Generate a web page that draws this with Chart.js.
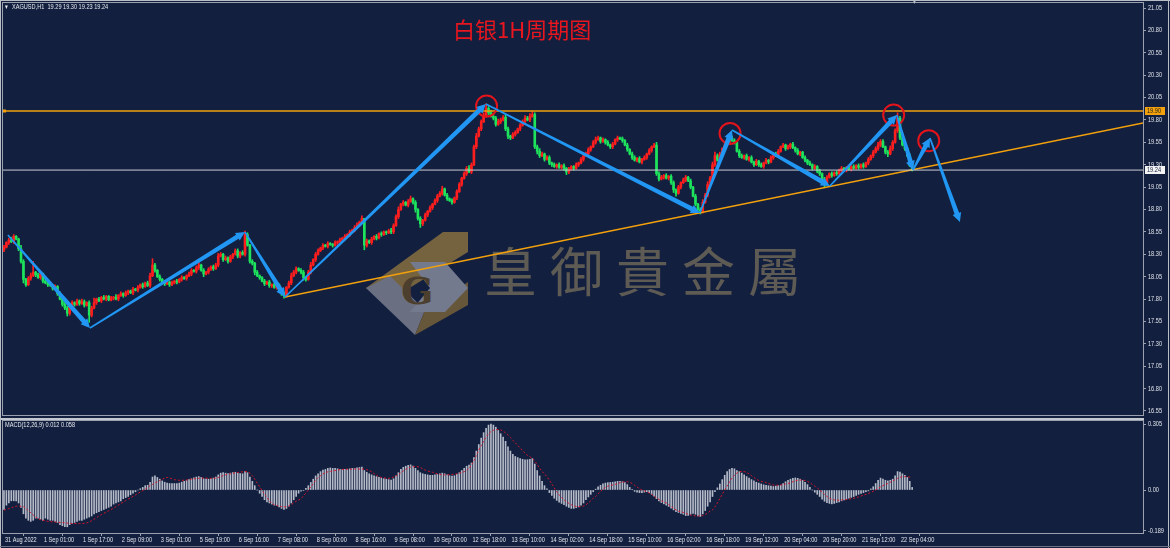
<!DOCTYPE html>
<html>
<head>
<meta charset="utf-8">
<script src="https://cdn.jsdelivr.net/npm/chart.js@4.4.0/dist/chart.umd.min.js"></script>
<style>
  html, body { margin: 0; padding: 0; background: #121f3f; }
  #wrap { position: relative; width: 1170px; height: 548px; overflow: hidden; background: #121f3f; }
  canvas { position: absolute; left: 0; z-index: 2; }
  #main { top: 0; }
  #macd { top: 418px; }
  .txt { position: absolute; z-index: 3; white-space: nowrap; font-family: 'Liberation Sans', sans-serif; font-size: 7px; color: #e6e8ee; transform: scaleX(0.8); transform-origin: 0 0; }
  #title { position: absolute; z-index: 3; left: 453px; top: 12px; font-family: 'Noto Sans CJK SC', sans-serif; font-size: 22px; color: #e8161e; white-space: nowrap; }
  #brand { position: absolute; z-index: 1; left: 484px; top: 243px; font-family: 'Noto Sans CJK TC', sans-serif; font-size: 53px; line-height: 53px; letter-spacing: 13px; color: #5e5a54; white-space: nowrap; }
  #logo { position: absolute; z-index: 1; left: 0; top: 0; }
  .edge { position: absolute; z-index: 4; background: #b9bdc6; }
</style>
</head>
<body>
<div id="wrap">
  <svg id="logo" width="1170" height="548">
    <polygon points="443,232 468,232 468,252 390,300 366,288" fill="#75623f"/>
    <polygon points="366,288 390,276 425,310 415,335" fill="#6a6f82"/>
    <polygon points="415,335 425,310 468,282 468,305" fill="#67573a"/>
    <polygon points="410,262 445,262 468,288 445,312 410,312 430,288" fill="#737a8d"/>
    <text x="401" y="304" font-size="38" font-weight="bold" fill="#4c3f2e" font-family="DejaVu Serif">G</text>
  </svg>
  <div id="brand">皇御貴金屬</div>
  <canvas id="main" width="1170" height="418"></canvas>
  <canvas id="macd" width="1170" height="130"></canvas>
  <div id="title">白银1H周期图</div>
  <div class="txt" style="left:5px;top:3px;">&#9662;</div>
  <div class="txt" style="left:12px;top:3px;">XAGUSD,H1&nbsp; 19.29 19.30 19.23 19.24</div>
  <div class="txt" style="left:5px;top:421px;">MACD(12,26,9) 0.012 0.058</div>
  <div class="txt" style="left:913px;top:-2px;color:#b9bdc6;">&#9662;</div>
  <div class="edge" style="left:0;top:0;width:1170px;height:1px;"></div>
  <div class="edge" style="left:0;top:0;width:1px;height:548px;"></div>
  <div class="edge" style="left:1168px;top:0;width:1px;height:548px;"></div>
  <div class="edge" style="left:0;top:546px;width:1170px;height:1px;background:#6c7282;"></div>
</div>
<script>
// time axis labels, one every 16 hourly bars
const timeLabels = ['31 Aug 2022', '1 Sep 01:00', '1 Sep 17:00', '2 Sep 09:00', '3 Sep 01:00', '5 Sep 19:00',
  '6 Sep 16:00', '7 Sep 08:00', '8 Sep 00:00', '8 Sep 16:00', '9 Sep 08:00', '10 Sep 00:00', '12 Sep 18:00',
  '13 Sep 10:00', '14 Sep 02:00', '14 Sep 18:00', '15 Sep 10:00', '16 Sep 02:00', '16 Sep 18:00',
  '19 Sep 12:00', '20 Sep 04:00', '20 Sep 20:00', '21 Sep 12:00', '22 Sep 04:00'];
const labelEvery = 16;

const priceTicks = [21.05, 20.80, 20.55, 20.30, 20.05, 19.80, 19.55, 19.30, 19.05, 18.80, 18.55, 18.30,
  18.05, 17.80, 17.55, 17.30, 17.05, 16.80, 16.55];
const macdTicks = [0.305, 0, -0.189];
const macdTickLabels = ['0.305', '0.00', '-0.189'];

// XAGUSD H1 closes
const firstOpen = 18.35;
const closes = [
  18.38, 18.43, 18.46, 18.44, 18.50, 18.47, 18.36, 18.22, 18.02, 17.96,
  18.03, 18.06, 18.10, 18.07, 18.04, 18.08, 18.00, 17.98, 17.96, 17.95,
  17.92, 17.94, 17.86, 17.80, 17.74, 17.70, 17.64, 17.72, 17.76, 17.74,
  17.78, 17.75, 17.77, 17.73, 17.76, 17.62, 17.70, 17.76, 17.80, 17.78,
  17.82, 17.80, 17.83, 17.79, 17.81, 17.82, 17.80, 17.84, 17.86, 17.84,
  17.87, 17.89, 17.87, 17.91, 17.90, 17.93, 17.96, 17.94, 17.98, 17.95,
  18.06, 18.18, 18.12, 18.05, 18.02, 17.98, 17.97, 17.99, 17.96, 17.98,
  18.00, 17.99, 18.02, 18.04, 18.03, 18.06, 18.08, 18.12, 18.11, 18.15,
  18.18, 18.12, 18.08, 18.10, 18.13, 18.16, 18.14, 18.18, 18.28, 18.30,
  18.24, 18.26, 18.22, 18.27, 18.30, 18.34, 18.28, 18.32, 18.30, 18.52,
  18.40, 18.22, 18.20, 18.10, 18.06, 18.04, 18.00, 17.97, 17.99, 17.95,
  17.96, 17.93, 17.96, 17.90, 17.86, 17.84, 17.93, 17.98, 18.06, 18.10,
  18.14, 18.12, 18.10, 18.04, 18.02, 18.10, 18.18, 18.24, 18.30, 18.34,
  18.37, 18.40, 18.39, 18.42, 18.41, 18.40, 18.43, 18.44, 18.46, 18.48,
  18.50, 18.52, 18.55, 18.57, 18.60, 18.63, 18.66, 18.70, 18.40, 18.45,
  18.43, 18.47, 18.50, 18.48, 18.53, 18.52, 18.55, 18.54, 18.56, 18.55,
  18.62, 18.72, 18.80, 18.86, 18.88, 18.85, 18.89, 18.92, 18.88, 18.80,
  18.70, 18.64, 18.68, 18.74, 18.78, 18.82, 18.86, 18.90, 18.95, 18.98,
  19.03, 18.96, 18.92, 18.90, 18.88, 18.93, 19.00, 19.08, 19.15, 19.20,
  19.26, 19.22, 19.30, 19.50, 19.62, 19.70, 19.78, 19.85, 19.93, 19.88,
  19.84, 19.82, 19.75, 19.78, 19.80, 19.83, 19.70, 19.62, 19.60, 19.64,
  19.66, 19.70, 19.74, 19.78, 19.82, 19.80, 19.84, 19.86, 19.50, 19.45,
  19.40, 19.42, 19.36, 19.38, 19.32, 19.30, 19.28, 19.30, 19.27, 19.29,
  19.26, 19.22, 19.25, 19.28, 19.26, 19.30, 19.32, 19.36, 19.40, 19.42,
  19.47, 19.50, 19.55, 19.58, 19.60, 19.56, 19.58, 19.55, 19.52, 19.50,
  19.53, 19.58, 19.60, 19.59, 19.57, 19.52, 19.47, 19.42, 19.38, 19.35,
  19.37, 19.33, 19.36, 19.38, 19.42, 19.46, 19.50, 19.52, 19.20, 19.14,
  19.16, 19.18, 19.15, 19.17, 19.10, 19.02, 18.98, 19.05, 19.10, 19.13,
  19.16, 19.12, 19.05, 18.95, 18.86, 18.80, 18.78, 18.88, 18.96, 19.08,
  19.15, 19.30, 19.40, 19.35, 19.42, 19.48, 19.52, 19.55, 19.60, 19.57,
  19.55, 19.45, 19.40, 19.38, 19.40, 19.36, 19.38, 19.33, 19.30, 19.34,
  19.30, 19.28, 19.32, 19.35, 19.33, 19.38, 19.42, 19.40, 19.45, 19.50,
  19.52, 19.48, 19.50, 19.53, 19.49, 19.46, 19.42, 19.44, 19.38, 19.35,
  19.32, 19.30, 19.26, 19.28, 19.23, 19.20, 19.14, 19.10, 19.16, 19.20,
  19.18, 19.21, 19.20, 19.24, 19.26, 19.24, 19.27, 19.25, 19.28, 19.26,
  19.29, 19.27, 19.30, 19.28, 19.32, 19.36, 19.40, 19.44, 19.48, 19.52,
  19.56, 19.50, 19.44, 19.42, 19.48, 19.55, 19.68, 19.82, 19.60, 19.52,
  19.48, 19.40, 19.29, 19.24
];
// wick lengths above / below the body, in cents
const upWick = [
  2, 1, 2, 3, 2, 1, 1, 4, 2, 1, 2, 3, 12, 1, 2, 2, 1, 3, 1, 2, 1, 2, 1, 2, 1, 3, 2, 1, 2, 1,
  2, 1, 3, 2, 1, 2, 2, 5, 1, 2, 1, 2, 1, 1, 2, 1, 3, 1, 2, 1, 2, 1, 1, 2, 1, 2, 1, 2, 1, 2,
  3, 7, 2, 1, 2, 1, 2, 1, 1, 2, 1, 2, 1, 2, 1, 1, 2, 2, 1, 2, 3, 1, 2, 1, 2, 1, 2, 2, 3, 2,
  1, 2, 1, 2, 1, 2, 2, 1, 2, 4, 2, 1, 2, 1, 2, 1, 1, 2, 1, 2, 1, 2, 1, 1, 2, 2, 1, 2, 3, 2,
  2, 1, 2, 2, 1, 2, 3, 1, 2, 2, 1, 2, 1, 2, 1, 1, 2, 1, 2, 1, 2, 1, 2, 1, 2, 2, 1, 3, 0, 2,
  1, 2, 1, 2, 1, 2, 1, 1, 2, 3, 2, 2, 3, 1, 2, 1, 2, 3, 1, 2, 1, 2, 1, 2, 1, 2, 1, 2, 2, 2,
  3, 1, 2, 1, 2, 1, 2, 2, 1, 2, 2, 3, 2, 2, 3, 2, 2, 3, 5, 2, 3, 2, 2, 3, 2, 2, 3, 2, 1, 2,
  2, 1, 2, 2, 3, 2, 3, 4, 2, 2, 3, 2, 1, 2, 2, 1, 2, 1, 2, 1, 2, 1, 2, 1, 1, 2, 1, 2, 1, 2,
  2, 1, 2, 3, 2, 1, 2, 1, 2, 1, 2, 1, 2, 1, 2, 1, 2, 1, 2, 2, 1, 2, 1, 2, 1, 2, 1, 2, 3, 2,
  2, 1, 2, 1, 2, 2, 1, 2, 1, 2, 2, 1, 2, 1, 2, 1, 2, 3, 2, 3, 2, 3, 4, 2, 2, 1, 2, 2, 3, 2,
  2, 1, 2, 2, 1, 2, 1, 2, 1, 2, 1, 2, 1, 2, 1, 2, 1, 2, 2, 1, 2, 1, 2, 1, 2, 1, 2, 1, 1, 2,
  1, 2, 1, 2, 1, 2, 1, 2, 2, 1, 2, 1, 2, 1, 2, 1, 1, 2, 1, 2, 1, 2, 1, 2, 1, 2, 1, 2, 2, 3,
  2, 2, 1, 2, 3, 2, 2, 6, 2, 2, 2, 1, 2, 1
];
const dnWick = [
  2, 1, 2, 1, 2, 1, 2, 2, 4, 2, 1, 2, 1, 2, 1, 2, 2, 1, 2, 1, 2, 1, 2, 1, 2, 2, 3, 2, 1, 2,
  1, 2, 1, 2, 1, 8, 2, 1, 2, 1, 2, 1, 2, 1, 1, 2, 1, 2, 1, 2, 1, 2, 1, 2, 1, 2, 1, 2, 1, 1,
  2, 1, 2, 1, 2, 1, 2, 1, 2, 1, 1, 2, 1, 2, 1, 2, 1, 2, 1, 2, 2, 1, 3, 1, 2, 1, 2, 1, 2, 1,
  2, 1, 2, 1, 2, 1, 2, 2, 1, 2, 1, 2, 2, 3, 1, 2, 1, 2, 1, 2, 2, 1, 2, 1, 2, 3, 2, 1, 2, 1,
  2, 1, 2, 3, 2, 1, 2, 1, 2, 1, 1, 2, 1, 2, 1, 2, 1, 2, 1, 2, 2, 1, 2, 1, 2, 1, 2, 1, 5, 2,
  1, 2, 1, 2, 1, 2, 1, 2, 1, 2, 2, 1, 2, 1, 2, 1, 2, 1, 2, 3, 2, 4, 2, 1, 2, 1, 2, 1, 2, 1,
  2, 1, 2, 1, 2, 1, 2, 1, 2, 1, 2, 1, 2, 1, 2, 1, 2, 1, 2, 2, 1, 2, 2, 1, 2, 1, 2, 3, 2, 1,
  2, 1, 2, 1, 2, 1, 2, 1, 2, 3, 2, 1, 2, 1, 2, 2, 1, 2, 1, 2, 2, 3, 2, 1, 2, 1, 2, 1, 2, 1,
  1, 2, 1, 2, 1, 2, 1, 2, 1, 2, 2, 1, 2, 1, 2, 1, 2, 1, 2, 1, 2, 1, 2, 1, 2, 1, 2, 1, 2, 2,
  1, 2, 1, 2, 2, 3, 3, 1, 2, 1, 2, 1, 2, 1, 2, 2, 3, 2, 1, 2, 1, 2, 2, 1, 2, 1, 2, 1, 2, 1,
  2, 1, 2, 1, 2, 1, 2, 1, 2, 1, 2, 1, 2, 1, 2, 1, 2, 1, 2, 1, 1, 2, 1, 2, 1, 2, 1, 2, 1, 2,
  2, 1, 2, 1, 2, 2, 3, 5, 2, 1, 2, 1, 2, 1, 2, 1, 2, 1, 2, 1, 1, 2, 1, 2, 1, 2, 1, 2, 1, 2,
  2, 1, 2, 3, 1, 2, 1, 2, 2, 1, 2, 1, 1, 1
];

// MACD(12,26,9): main line (histogram) and signal
const macdMain = [
  -0.09, -0.07, -0.06, -0.05, -0.05, -0.05, -0.06, -0.08, -0.11, -0.13,
  -0.14, -0.145, -0.14, -0.13, -0.13, -0.135, -0.14, -0.13, -0.135, -0.14,
  -0.14, -0.145, -0.15, -0.16, -0.165, -0.17, -0.17, -0.16, -0.155, -0.15,
  -0.145, -0.14, -0.14, -0.135, -0.13, -0.125, -0.12, -0.11, -0.105, -0.10,
  -0.095, -0.09, -0.085, -0.08, -0.075, -0.065, -0.06, -0.055, -0.05, -0.04,
  -0.035, -0.03, -0.022, -0.015, -0.008, 0.0, 0.006, 0.012, 0.02, 0.022,
  0.035, 0.06, 0.065, 0.058, 0.05, 0.042, 0.036, 0.032, 0.03, 0.03,
  0.03, 0.03, 0.032, 0.036, 0.04, 0.044, 0.048, 0.052, 0.056, 0.06,
  0.062, 0.058, 0.052, 0.05, 0.05, 0.052, 0.055, 0.06, 0.07, 0.078,
  0.08, 0.078, 0.076, 0.078, 0.08, 0.082, 0.078, 0.076, 0.075, 0.085,
  0.08, 0.06, 0.04, 0.02, 0.0, -0.015, -0.03, -0.045, -0.055, -0.06,
  -0.065, -0.07, -0.072, -0.078, -0.085, -0.09, -0.085, -0.075, -0.06, -0.045,
  -0.03, -0.015, -0.005, -0.002, 0.008, 0.02, 0.035, 0.05, 0.065, 0.075,
  0.085, 0.092, 0.095, 0.1, 0.102, 0.1, 0.1, 0.098, 0.096, 0.095,
  0.095, 0.096, 0.098, 0.1, 0.1, 0.102, 0.104, 0.106, 0.09, 0.082,
  0.075, 0.07, 0.066, 0.062, 0.058, 0.055, 0.052, 0.05, 0.048, 0.046,
  0.052, 0.065, 0.08, 0.095, 0.105, 0.11, 0.114, 0.116, 0.11, 0.1,
  0.09, 0.08, 0.075, 0.072, 0.07, 0.068, 0.068, 0.07, 0.072, 0.075,
  0.078, 0.075, 0.07, 0.066, 0.064, 0.066, 0.072, 0.08, 0.09, 0.1,
  0.11, 0.115, 0.125, 0.15, 0.18, 0.21, 0.24, 0.265, 0.285, 0.3,
  0.305, 0.3, 0.29, 0.275, 0.26, 0.245, 0.225, 0.2, 0.18, 0.165,
  0.155, 0.15, 0.145, 0.142, 0.14, 0.14, 0.142, 0.145, 0.12, 0.09,
  0.065, 0.04, 0.02, 0.005, -0.012, -0.025, -0.038, -0.048, -0.056, -0.062,
  -0.068, -0.075, -0.08, -0.085, -0.085, -0.082, -0.078, -0.07, -0.06, -0.045,
  -0.032, -0.02, -0.008, 0.004, 0.015, 0.022, 0.028, 0.032, 0.034, 0.035,
  0.036, 0.038, 0.04, 0.04, 0.038, 0.034, 0.025, 0.012, 0.002, -0.006,
  -0.01, -0.012, -0.012, -0.01, -0.008, -0.012, -0.02, -0.028, -0.04, -0.05,
  -0.058, -0.064, -0.07, -0.076, -0.084, -0.092, -0.1, -0.104, -0.108, -0.112,
  -0.118, -0.118, -0.112, -0.108, -0.112, -0.12, -0.122, -0.11, -0.095, -0.075,
  -0.055, -0.03, -0.008, 0.01, 0.028, 0.048, 0.068, 0.085, 0.095, 0.1,
  0.098, 0.09, 0.085, 0.078, 0.07, 0.062, 0.055, 0.048, 0.042, 0.036,
  0.032, 0.028, 0.024, 0.022, 0.02, 0.018, 0.016, 0.018, 0.02, 0.022,
  0.03, 0.038, 0.045, 0.05, 0.054, 0.056, 0.054, 0.05, 0.044, 0.035,
  0.025, 0.012, 0.0, -0.01, -0.02, -0.03, -0.042, -0.052, -0.058, -0.062,
  -0.064, -0.062, -0.058, -0.055, -0.05, -0.046, -0.042, -0.038, -0.034, -0.03,
  -0.025, -0.02, -0.016, -0.012, -0.008, -0.004, 0.005, 0.015, 0.03, 0.045,
  0.055, 0.05, 0.045, 0.042, 0.045, 0.05, 0.065, 0.085, 0.083, 0.075,
  0.068, 0.058, 0.04, 0.012
];
const macdSignal = [
  -0.093, -0.09, -0.086, -0.082, -0.078, -0.075, -0.074, -0.075, -0.077, -0.085,
  -0.095, -0.105, -0.115, -0.125, -0.132, -0.137, -0.14, -0.143, -0.145, -0.146,
  -0.147, -0.148, -0.149, -0.15, -0.151, -0.152, -0.153, -0.154, -0.155, -0.155,
  -0.155, -0.155, -0.155, -0.154, -0.152, -0.148, -0.142, -0.135, -0.128, -0.12,
  -0.114, -0.108, -0.102, -0.096, -0.09, -0.084, -0.077, -0.07, -0.063, -0.056,
  -0.049, -0.042, -0.036, -0.03, -0.023, -0.016, -0.009, -0.003, 0.004, 0.012,
  0.02, 0.026, 0.032, 0.038, 0.044, 0.05, 0.055, 0.058, 0.056, 0.052,
  0.048, 0.046, 0.045, 0.045, 0.045, 0.046, 0.048, 0.05, 0.052, 0.053,
  0.054, 0.055, 0.055, 0.055, 0.054, 0.054, 0.054, 0.055, 0.058, 0.062,
  0.066, 0.07, 0.073, 0.075, 0.077, 0.079, 0.081, 0.083, 0.084, 0.085,
  0.085, 0.078, 0.066, 0.05, 0.032, 0.015, -0.002, -0.018, -0.034, -0.05,
  -0.062, -0.068, -0.072, -0.075, -0.077, -0.078, -0.077, -0.074, -0.068, -0.06,
  -0.052, -0.046, -0.04, -0.028, -0.014, 0.0, 0.014, 0.028, 0.046, 0.058,
  0.066, 0.074, 0.08, 0.084, 0.086, 0.088, 0.09, 0.092, 0.094, 0.095,
  0.096, 0.096, 0.096, 0.097, 0.097, 0.097, 0.097, 0.097, 0.096, 0.094,
  0.09, 0.084, 0.076, 0.068, 0.062, 0.058, 0.056, 0.055, 0.054, 0.056,
  0.06, 0.065, 0.072, 0.08, 0.088, 0.096, 0.102, 0.106, 0.108, 0.108,
  0.108, 0.104, 0.098, 0.092, 0.088, 0.085, 0.082, 0.078, 0.075, 0.072,
  0.07, 0.07, 0.07, 0.071, 0.072, 0.073, 0.075, 0.078, 0.08, 0.085,
  0.09, 0.1, 0.115, 0.135, 0.16, 0.185, 0.205, 0.225, 0.245, 0.26,
  0.27, 0.276, 0.279, 0.28, 0.278, 0.272, 0.264, 0.254, 0.243, 0.23,
  0.218, 0.206, 0.194, 0.182, 0.17, 0.16, 0.154, 0.146, 0.134, 0.118,
  0.1, 0.086, 0.074, 0.062, 0.045, 0.028, 0.01, -0.008, -0.022, -0.035,
  -0.045, -0.054, -0.062, -0.068, -0.073, -0.076, -0.077, -0.077, -0.074, -0.068,
  -0.06, -0.05, -0.038, -0.03, -0.018, -0.006, 0.004, 0.012, 0.018, 0.021,
  0.023, 0.026, 0.03, 0.034, 0.036, 0.038, 0.038, 0.036, 0.03, 0.022,
  0.014, 0.006, 0.0, -0.004, -0.008, -0.014, -0.02, -0.028, -0.036, -0.044,
  -0.05, -0.054, -0.06, -0.068, -0.076, -0.084, -0.092, -0.098, -0.1, -0.104,
  -0.108, -0.112, -0.116, -0.118, -0.12, -0.12, -0.12, -0.118, -0.114, -0.106,
  -0.098, -0.092, -0.078, -0.06, -0.04, -0.02, 0.0, 0.018, 0.038, 0.055,
  0.068, 0.078, 0.084, 0.086, 0.085, 0.082, 0.074, 0.066, 0.058, 0.05,
  0.044, 0.04, 0.038, 0.034, 0.03, 0.026, 0.023, 0.022, 0.022, 0.023,
  0.025, 0.028, 0.03, 0.034, 0.038, 0.042, 0.045, 0.046, 0.046, 0.044,
  0.04, 0.034, 0.026, 0.018, 0.01, 0.0, -0.01, -0.02, -0.03, -0.038,
  -0.043, -0.046, -0.047, -0.047, -0.046, -0.045, -0.044, -0.042, -0.04, -0.038,
  -0.035, -0.032, -0.028, -0.024, -0.02, -0.016, -0.012, -0.006, 0.0, 0.008,
  0.014, 0.02, 0.026, 0.03, 0.036, 0.042, 0.048, 0.054, 0.058, 0.062,
  0.062, 0.061, 0.06, 0.058
];

// drawn objects, in (bar index, price)
const zigBars = [1.6, 35.3, 99.0, 115.4, 197.9, 285.8, 299.0, 339.2, 366.7, 373.3, 380.3, 392.6];
const zigPrices = [18.515, 17.476, 18.548, 17.823, 19.978, 18.761, 19.687, 19.062, 19.855, 19.241, 19.598, 18.66];
const circleBars = [198.2, 298.2, 365.4, 379.8];
const circlePrices = [19.955, 19.65, 19.855, 19.568];
const trendBars = [115.4, 467.8];
const trendPrices = [17.823, 19.766];
const resistance = 19.90;
const lastPrice = 19.24;

const xMin = -0.4, xMax = 467.8;
const upColor = '#ff1e1e', downColor = '#1ee35c';
const axisColor = '#9aa0ad';
const labelColor = '#e2e5ec';
const labelFont = "7px 'Liberation Sans', sans-serif";
const squeeze = 0.8;

const opens = closes.map((c, i) => i === 0 ? firstOpen : closes[i - 1]);
const highs = closes.map((c, i) => Math.max(c, opens[i]) + upWick[i] / 100);
const lows = closes.map((c, i) => Math.min(c, opens[i]) - dnWick[i] / 100);
const candleColors = closes.map((c, i) => c >= opens[i] ? upColor : downColor);

const frame = {
  id: 'frame',
  afterDraw(chart) {
    const { ctx, chartArea: a } = chart;
    ctx.save();
    ctx.strokeStyle = axisColor;
    ctx.lineWidth = 1;
    ctx.strokeRect(a.left - 0.5, a.top - 0.5, a.right - a.left + 1, a.bottom - a.top + 1);
    ctx.restore();
  }
};

// narrow axis labels, drawn next to the scale ticks
function squeezedText(ctx, text, x, y) {
  ctx.save();
  ctx.translate(x, y);
  ctx.scale(squeeze, 1);
  ctx.fillText(text, 0, 0);
  ctx.restore();
}
const axisLabels = {
  id: 'axisLabels',
  afterDraw(chart, args, opts) {
    const { ctx, chartArea: a, scales } = chart;
    ctx.save();
    ctx.font = labelFont;
    ctx.fillStyle = labelColor;
    ctx.textAlign = 'left';
    ctx.textBaseline = 'middle';
    const y = scales.y;
    y.ticks.forEach((t, i) => squeezedText(ctx, opts.yLabels[i], a.right + 5, y.getPixelForValue(t.value)));
    if (opts.xLabels) {
      const x = scales.x;
      ctx.textBaseline = 'top';
      x.ticks.forEach((t, i) => squeezedText(ctx, opts.xLabels[i], x.getPixelForValue(t.value) + 1, a.bottom + 4));
    }
    ctx.restore();
  }
};

const arrows = {
  id: 'arrows',
  afterDatasetsDraw(chart) {
    const { ctx, scales: { x, y } } = chart;
    ctx.save();
    ctx.fillStyle = '#2196f3';
    for (let k = 0; k < zigBars.length - 1; k++) {
      const x0 = x.getPixelForValue(zigBars[k]), y0 = y.getPixelForValue(zigPrices[k]);
      const x1 = x.getPixelForValue(zigBars[k + 1]), y1 = y.getPixelForValue(zigPrices[k + 1]);
      const len = Math.hypot(x1 - x0, y1 - y0);
      const ux = (x1 - x0) / len, uy = (y1 - y0) / len;
      const nx = -uy, ny = ux;
      const head = 9, headW = 4.5, w0 = 0.8, w1 = 2.4;
      const bx = x1 - ux * head, by = y1 - uy * head;
      ctx.beginPath();
      ctx.moveTo(x0 + nx * w0, y0 + ny * w0);
      ctx.lineTo(bx + nx * w1, by + ny * w1);
      ctx.lineTo(bx + nx * headW, by + ny * headW);
      ctx.lineTo(x1, y1);
      ctx.lineTo(bx - nx * headW, by - ny * headW);
      ctx.lineTo(bx - nx * w1, by - ny * w1);
      ctx.lineTo(x0 - nx * w0, y0 - ny * w0);
      ctx.closePath();
      ctx.fill();
    }
    ctx.restore();
  }
};

// price tags on the right axis
const priceTags = {
  id: 'priceTags',
  afterDraw(chart) {
    const { ctx, chartArea: a, scales: { y } } = chart;
    const tags = [[resistance, '#f2a10c', '#1a1a1a'], [lastPrice, '#f4f4f4', '#121f3f']];
    ctx.save();
    ctx.font = labelFont;
    ctx.textBaseline = 'middle';
    tags.forEach(([v, bg, fg]) => {
      const py = Math.round(y.getPixelForValue(v));
      ctx.fillStyle = bg;
      ctx.fillRect(a.right + 2, py - 4, 20, 8);
      ctx.fillStyle = fg;
      squeezedText(ctx, v.toFixed(2), a.right + 4, py + 0.5);
    });
    ctx.fillStyle = '#f2a10c';
    const pr = y.getPixelForValue(resistance);
    ctx.fillRect(a.left, pr - 1.5, 3, 3);
    ctx.restore();
  }
};

const fixedY = width => s => { s.width = width; };
const tickMarks = { drawOnChartArea: false, drawTicks: true, tickLength: 3, color: axisColor };

new Chart(document.getElementById('main'), {
  type: 'bar',
  data: {
    datasets: [
      {
        type: 'line', order: 1,
        data: circleBars.map((b, i) => ({ x: b, y: circlePrices[i] })),
        showLine: false, pointRadius: 10.5, pointBorderWidth: 2,
        pointBorderColor: '#e3141c', pointBackgroundColor: 'rgba(0,0,0,0)'
      },
      {
        type: 'line', order: 2,
        data: [{ x: xMin, y: resistance }, { x: xMax, y: resistance }],
        borderColor: '#f2a10c', borderWidth: 1.6, pointRadius: 0
      },
      {
        type: 'line', order: 2,
        data: [{ x: xMin, y: lastPrice }, { x: xMax, y: lastPrice }],
        borderColor: '#c9ccd3', borderWidth: 1, pointRadius: 0
      },
      {
        type: 'line', order: 2,
        data: trendBars.map((b, i) => ({ x: b, y: trendPrices[i] })),
        borderColor: '#f2a10c', borderWidth: 1.4, pointRadius: 0
      },
      {
        order: 5, grouped: false, barThickness: 2, minBarLength: 1,
        data: closes.map((c, i) => ({ x: i, y: [opens[i], c] })),
        backgroundColor: candleColors
      },
      {
        order: 6, grouped: false, barThickness: 1,
        data: closes.map((c, i) => ({ x: i, y: [lows[i], highs[i]] })),
        backgroundColor: candleColors
      }
    ]
  },
  options: {
    responsive: false,
    animation: false,
    events: [],
    layout: { autoPadding: false, padding: { left: 3, top: 3, right: 0, bottom: 3 } },
    plugins: {
      legend: { display: false }, tooltip: { enabled: false },
      axisLabels: { yLabels: priceTicks.map(v => v.toFixed(2)) }
    },
    scales: {
      x: { type: 'linear', min: xMin, max: xMax, offset: false, display: false },
      y: {
        position: 'right', min: 16.505, max: 21.106,
        afterBuildTicks: s => { s.ticks = priceTicks.map(v => ({ value: v })); },
        afterFit: fixedY(27),
        grid: tickMarks,
        border: { display: true, color: axisColor },
        ticks: { display: false }
      }
    }
  },
  plugins: [frame, arrows, priceTags, axisLabels]
});

new Chart(document.getElementById('macd'), {
  type: 'bar',
  data: {
    datasets: [
      {
        type: 'line', order: 1,
        data: macdSignal.map((v, i) => ({ x: i, y: v })),
        borderColor: '#d8142c', borderWidth: 1, borderDash: [2, 2], pointRadius: 0
      },
      {
        order: 2, barThickness: 1,
        data: macdMain.map((v, i) => ({ x: i, y: v })),
        backgroundColor: '#b4bac8'
      }
    ]
  },
  options: {
    responsive: false,
    animation: false,
    events: [],
    layout: { autoPadding: false, padding: { left: 3, top: 3, right: 0, bottom: 0 } },
    plugins: {
      legend: { display: false }, tooltip: { enabled: false },
      axisLabels: { yLabels: macdTickLabels, xLabels: timeLabels }
    },
    scales: {
      x: {
        type: 'linear', min: xMin, max: xMax, offset: false,
        afterBuildTicks: s => { s.ticks = timeLabels.map((t, k) => ({ value: k * labelEvery })); },
        afterFit: s => { s.height = 15; },
        grid: tickMarks,
        border: { display: true, color: axisColor },
        ticks: { display: false }
      },
      y: {
        position: 'right', min: -0.1987, max: 0.3189,
        afterBuildTicks: s => { s.ticks = macdTicks.map(v => ({ value: v })); },
        afterFit: fixedY(27),
        grid: tickMarks,
        border: { display: true, color: axisColor },
        ticks: { display: false }
      }
    }
  },
  plugins: [frame, axisLabels, {
    id: 'separator',
    beforeDraw(chart) {
      const ctx = chart.ctx;
      ctx.save();
      ctx.fillStyle = '#c3c7cf';
      ctx.fillRect(0, 0, chart.chartArea.right + 1, 2);
      ctx.restore();
    }
  }]
});
</script>
</body>
</html>
